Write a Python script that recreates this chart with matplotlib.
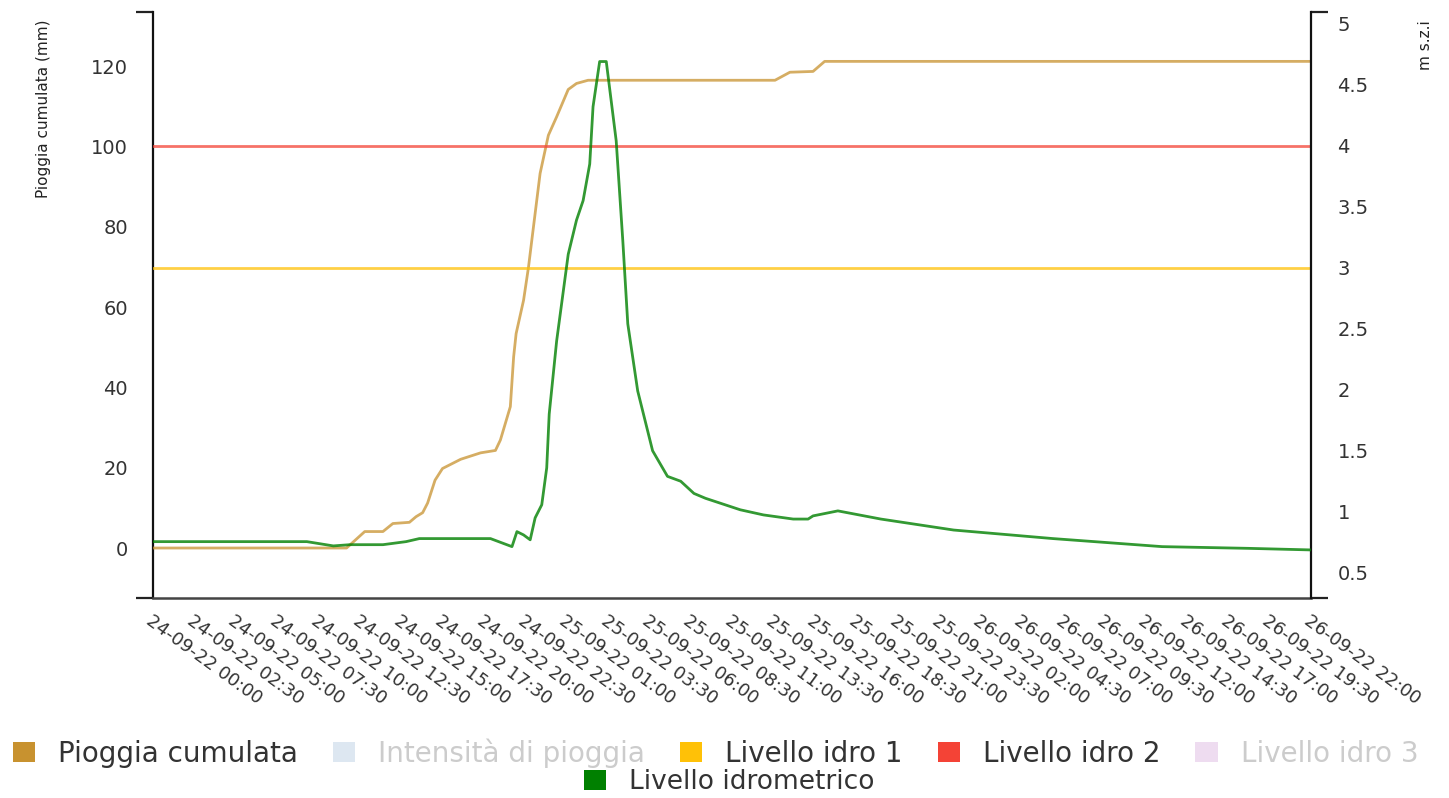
import matplotlib
matplotlib.use('Agg')
import matplotlib.pyplot as plt
from matplotlib.patches import Patch

# ---------------- data ----------------
# hours from 24-09-22 00:00
rain_h = [0, 11.7, 12.8, 13.9, 14.5, 15.5, 15.9, 16.3, 16.6, 17.05, 17.5, 18.6, 19.8,
          20.7, 21.0, 21.6, 21.8, 21.95, 22.4, 22.7, 22.9, 23.4, 23.9, 24.4, 25.1,
          25.6, 26.3, 37.6, 38.5, 39.9, 40.6, 70]
rain_v = [0, 0, 4.1, 4.1, 6.1, 6.4, 7.8, 8.8, 11.2, 16.9, 19.8, 22.1, 23.7,
          24.3, 26.9, 35.2, 47.6, 53.4, 61.7, 70, 76.7, 93.3, 102.8, 107.4, 114.2,
          115.7, 116.5, 116.5, 118.5, 118.7, 121.2, 121.2]

lvl_h = [0, 9.3, 10.9, 11.9, 13.9, 15.3, 16.1, 20.4, 21.7, 22.0, 22.4, 22.8, 23.1,
         23.5, 23.8, 23.95, 24.4, 25.1, 25.6, 26.0, 26.4, 26.6, 27.0, 27.4, 28.0,
         28.4, 28.7, 29.3, 30.2, 31.1, 31.9, 32.7, 33.4, 35.5, 36.9, 38.7, 39.6,
         39.9, 41.4, 44.0, 48.4, 54.4, 61.0, 66.2, 70]
lvl_v = [0.755, 0.755, 0.72, 0.73, 0.73, 0.755, 0.78, 0.78, 0.714, 0.837, 0.81, 0.77, 0.95,
         1.057, 1.36, 1.80, 2.40, 3.11, 3.39, 3.55, 3.85, 4.32, 4.69, 4.69, 4.04,
         3.22, 2.54, 1.99, 1.50, 1.29, 1.25, 1.15, 1.11, 1.016, 0.974, 0.94, 0.94,
         0.966, 1.007, 0.94, 0.85, 0.78, 0.714, 0.70, 0.687]

idro1 = 3.0
idro2 = 4.0

x_tick_pos = [0, 2.5, 5, 7.5, 10, 12.5, 15, 17.5, 20, 22.5, 25, 27.5, 30, 32.5, 35,
              37.5, 40, 42.5, 45, 47.5, 50, 52.5, 55, 57.5, 60, 62.5, 65, 67.5, 70]
x_tick_labels = [
    '24-09-22 00:00', '24-09-22 02:30', '24-09-22 05:00', '24-09-22 07:30',
    '24-09-22 10:00', '24-09-22 12:30', '24-09-22 15:00', '24-09-22 17:30',
    '24-09-22 20:00', '24-09-22 22:30', '25-09-22 01:00', '25-09-22 03:30',
    '25-09-22 06:00', '25-09-22 08:30', '25-09-22 11:00', '25-09-22 13:30',
    '25-09-22 16:00', '25-09-22 18:30', '25-09-22 21:00', '25-09-22 23:30',
    '26-09-22 02:00', '26-09-22 04:30', '26-09-22 07:00', '26-09-22 09:30',
    '26-09-22 12:00', '26-09-22 14:30', '26-09-22 17:00', '26-09-22 19:30',
    '26-09-22 22:00']
left_ticks = [0, 20, 40, 60, 80, 100, 120]
right_ticks = [0.5, 1, 1.5, 2, 2.5, 3, 3.5, 4, 4.5, 5]
right_tick_labels = ['0.5', '1', '1.5', '2', '2.5', '3', '3.5', '4', '4.5', '5']

legend_row1 = ['Pioggia cumulata', 'Intensità di pioggia', 'Livello idro 1',
               'Livello idro 2', 'Livello idro 3']
legend_row1_colors = ['#C8922F', '#DDE7F1', '#FFC107', '#F44336', '#EEDCF0']
legend_row1_active = [True, False, True, True, False]
legend_row2 = ['Livello idrometrico']
legend_row2_colors = ['#008000']

# ---------------- figure ----------------
plt.rcParams['font.family'] = ['DejaVu Sans']
W, H = 1449, 798
fig = plt.figure(figsize=(W / 100, H / 100), dpi=100)
fig.patch.set_facecolor('white')

x0, x1, y0, y1 = 153, 1311, 12, 598
ax = fig.add_axes([x0 / W, 1 - y1 / H, (x1 - x0) / W, (y1 - y0) / H])
ax2 = ax.twinx()

ax.plot(rain_h, rain_v, color='#C8922F', lw=2, alpha=0.75, zorder=3)
ax2.axhline(idro1, color='#FFC107', lw=2, alpha=0.75, zorder=2)
ax2.axhline(idro2, color='#F44336', lw=2, alpha=0.75, zorder=2)
ax2.plot(lvl_h, lvl_v, color='#008000', lw=2, alpha=0.8, zorder=4)

ax.set_xlim(0, 70)
ax.set_ylim(-12.45, 133.5)
ax2.set_ylim(0.293, 5.096)

ax.set_yticks(left_ticks)
ax.set_yticklabels([str(v) for v in left_ticks])
ax2.set_yticks(right_ticks)
ax2.set_yticklabels(right_tick_labels)
ax.set_xticks(x_tick_pos)
ax.set_xticklabels(x_tick_labels)

# spines
for a in (ax, ax2):
    a.spines['top'].set_visible(False)
ax.spines['right'].set_visible(False)
ax2.spines['left'].set_visible(False)
ax2.spines['bottom'].set_visible(False)
ax.spines['left'].set_color('#111111')
ax.spines['left'].set_linewidth(1.6)
ax2.spines['right'].set_color('#111111')
ax2.spines['right'].set_linewidth(1.6)
ax.spines['bottom'].set_color('#444444')
ax.spines['bottom'].set_linewidth(1.8)

# major ticks invisible, labels only
ax.tick_params(axis='y', which='major', length=0, pad=18, labelsize=14, labelcolor='#333333')
ax2.tick_params(axis='y', which='major', length=0, pad=19, labelsize=14, labelcolor='#333333')
ax.tick_params(axis='x', which='major', length=0, pad=10, labelsize=13, labelcolor='#333333')

# end ticks (caps)
ax.set_yticks([-12.45, 133.5], minor=True)
ax2.set_yticks([0.293, 5.096], minor=True)
ax.set_xticks([0, 70], minor=True)
ax.tick_params(axis='y', which='minor', length=12, width=1.6, direction='out', color='#222222')
ax2.tick_params(axis='y', which='minor', length=12, width=1.6, direction='out', color='#222222')
ax.tick_params(axis='x', which='minor', length=13, width=2, direction='inout', color='#111111')

for lbl in ax.get_xticklabels():
    lbl.set_rotation(-36)
    lbl.set_ha('left')
    lbl.set_va('top')
    lbl.set_rotation_mode('anchor')

# axis titles
fig.text(44 / W, 1 - 20 / H, 'Pioggia cumulata (mm)', rotation=90, ha='center', va='top',
         fontsize=11, color='#222222')
fig.text(1425 / W, 1 - 20 / H, 'm s.z.i', rotation=90, ha='center', va='top',
         fontsize=11, color='#222222')

# legend
h1 = [Patch(facecolor=c, edgecolor='none') for c in legend_row1_colors]
leg1 = fig.legend(h1, legend_row1, loc='center', bbox_to_anchor=(715.5 / W, 1 - 753 / H),
                  ncol=5, frameon=False, fontsize=20, handlelength=0.8, handleheight=0.75,
                  handletextpad=0.83, columnspacing=1.26, borderpad=0, borderaxespad=0)
for t, act in zip(leg1.get_texts(), legend_row1_active):
    t.set_color('#333333' if act else '#CCCCCC')

h2 = [Patch(facecolor=c, edgecolor='none') for c in legend_row2_colors]
leg2 = fig.legend(h2, legend_row2, loc='center', bbox_to_anchor=(729.5 / W, 1 - 782 / H),
                  ncol=1, frameon=False, fontsize=19, handlelength=0.84, handleheight=0.79,
                  handletextpad=0.87, borderpad=0, borderaxespad=0)
for t in leg2.get_texts():
    t.set_color('#333333')

fig.savefig('out.png', dpi=100, facecolor='white')
